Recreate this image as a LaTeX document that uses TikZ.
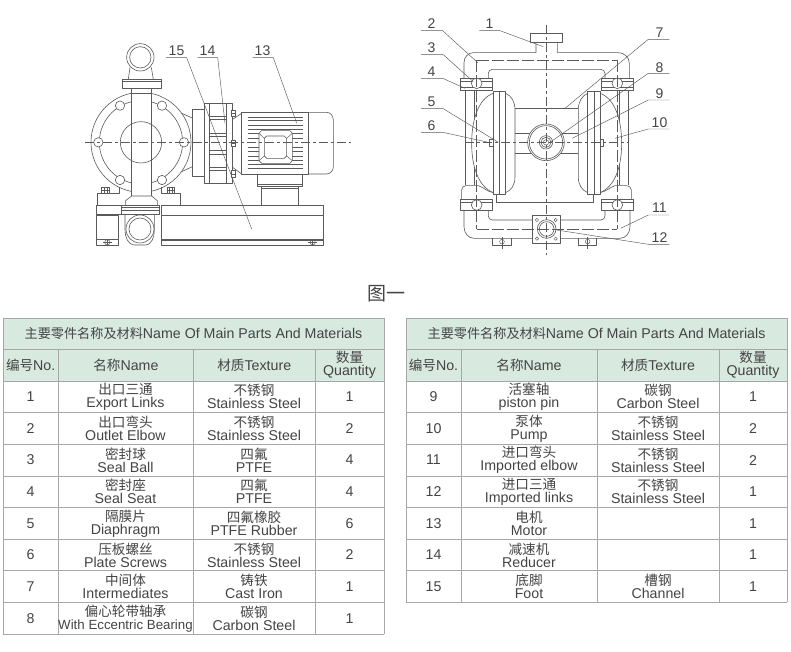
\documentclass[tikz,border=0pt]{standalone}
\usepackage{fontspec}
\setmainfont{Liberation Sans}
\newfontfamily\zhfont{Noto Sans CJK SC}
\newcommand{\Zh}[1]{{\zhfont\fontsize{13.6}{13}\selectfont #1}}
\definecolor{ink}{HTML}{444444}
\definecolor{hdr}{HTML}{D8E9E0}
\definecolor{rule}{HTML}{A6A8A7}
\definecolor{draft}{HTML}{5A5A5A}
\tikzset{
  mech/.style={draw=draft,line width=.6pt,line join=round},
  thin mech/.style={draw=draft,line width=.45pt},
  axis/.style={draw=draft,line width=.5pt,dash pattern=on 9pt off 3pt on 3pt off 3pt},
  hidden/.style={draw=draft,line width=.5pt,dash pattern=on 12pt off 3pt},
  leader/.style={draw=draft,line width=.45pt},
  partno/.style={text=ink,font=\fontsize{14}{14}\selectfont,inner sep=0pt},
  cell/.style={text=ink,font=\fontsize{14.2}{13}\selectfont,align=center,inner sep=0pt},
  headfill/.style={fill=hdr,draw=none},
  tablerule/.style={draw=rule,line width=.8pt},
}
\newcommand{\tableframe}[8]{% name,x0,x1,x2,x3,x4,ybottom,rows
  \fill[headfill] (#2,318) rectangle (#6,381);
  \foreach \yy in {318,349,381} \draw[tablerule] (#2,\yy) -- (#6,\yy);
  \foreach \rr in {1,...,#8} \draw[tablerule] (#2,381+\rr*31.63) -- (#6,381+\rr*31.63);
  \draw[tablerule] (#2,318) -- (#2,#7);
  \draw[tablerule] (#6,318) -- (#6,#7);
  \foreach \xx in {#3,#4,#5} \draw[tablerule] (\xx,349) -- (\xx,#7);
  \node[cell] (#1title) at ({(#2+#6)/2},333.5) {{\zhfont\fontsize{13.15}{13}\selectfont 主要零件名称及材料}Name Of Main Parts And Materials};
  \node[cell] (#1hno) at ({(#2+#3)/2},365) {\Zh{编号}No.};
  \node[cell] (#1hname) at ({(#3+#4)/2},365) {\Zh{名称}Name};
  \node[cell] (#1htex) at ({(#4+#5)/2},365) {\Zh{材质}Texture};
  \node[cell] (#1hqty) at ({(#5+#6)/2},365) {\Zh{数量}\\Quantity};
}
\newcommand{\tablerow}[7]{% name, i, no, cn, en, mat, qty ; uses \cxa..\cxd
  \pgfmathsetmacro{\yc}{381+(#2-0.5)*31.63}
  \node[cell] (#1no#3) at (\cxa,\yc) {#3};
  \node[cell] (#1name#3) at (\cxb,\yc) {\Zh{#4}\\#5};
  \node[cell] (#1mat#3) at (\cxc,\yc) {#6};
  \node[cell] (#1qty#3) at (\cxd,\yc) {#7};
}
\begin{document}
\begin{tikzpicture}[x=1pt,y=-1pt]
\useasboundingbox (0,0) rectangle (791,651);
\fill[white] (0,0) rectangle (791,651);

% ---------- left drawing ----------
\begin{scope}[shift={(80,30)},x=.3333pt,y=-.3333pt]
  % outlet elbow
  \draw[mech] (181,82) circle (41);
  \draw[mech] (181,82) circle (32);
  \draw[mech] (150,112) -- (145,148);
  \draw[mech] (214,112) -- (220,148);
  \draw[mech] (127,148) rectangle (243,175);
  \draw[mech] (127,155) -- (243,155);
  % pump body
  \draw[mech] (183,337) circle (150);
  \draw[mech] (183,337) circle (125);
  \foreach \bx/\by in {55/337,312/337,120/227,246/227,120/450,246/450}
    \draw[mech,fill=white] (\bx,\by) circle (14);
  \fill[white] (156,176) rectangle (214,500);
  \draw[mech] (155,176) -- (155,505);
  \draw[mech] (215,176) -- (215,505);
  \draw[mech] (155,190) -- (215,190);
  \draw[mech] (183,337) circle (62);
  % inlet elbow
  \draw[mech,fill=white] (137,525) -- (137,512) -- (155,498) -- (215,498) -- (232,512) -- (232,525);
  \draw[mech,fill=white] (135,553) -- (135,600) to[out=-90,in=180] (165,645) -- (195,645) to[out=0,in=-90] (223,600) -- (223,553);
  \draw[mech] (180,597) circle (42);
  \draw[mech] (180,597) circle (33);
  \draw[mech,fill=white] (125,525) rectangle (239,553);
  \draw[mech] (125,532) -- (239,532);
  \draw[mech] (125,542) -- (239,542);
  % feet
  \draw[mech] (52,527) -- (52,490) -- (117,490) -- (117,470);
  \draw[mech] (245,470) -- (245,490) -- (300,490) -- (300,527);
  \draw[mech] (65,490) rectangle (88,472);
  \draw[mech] (262,490) rectangle (284,472);
  \draw[thin mech] (65,481) -- (88,481) (72,472) -- (72,490) (81,472) -- (81,490);
  \draw[thin mech] (262,481) -- (284,481) (268,472) -- (268,490) (277,472) -- (277,490);
  % base
  \draw[mech] (48,527) rectangle (125,553);
  \draw[mech] (48,555) -- (48,647) -- (115,647) -- (115,555) -- cycle;
  \draw[mech] (48,628) -- (115,628);
  \draw[mech] (243,525) rectangle (730,555);
  \draw[mech] (243,555) -- (243,647) -- (730,647) -- (730,555);
  \draw[mech] (243,628) -- (730,628);
  \draw[mech] (243,632) -- (730,632);
  \foreach \bx in {82,698} {
    \draw[thin mech] (\bx,637) circle (8);
    \draw[thin mech] (\bx-14,637) -- (\bx+14,637) (\bx,628) -- (\bx,647);
  }
  % bell housing + reducer
  \draw[mech] (305,250) -- (337,264);
  \draw[mech] (305,425) -- (337,410);
  \draw[mech,fill=white] (337,238) rectangle (372,440);
  \draw[mech,fill=white] (372,220) rectangle (458,460);
  \draw[mech] (388,220) -- (388,460);
  \draw[mech] (440,220) -- (440,460);
  \draw[mech] (388,258) -- (440,258) (388,268) -- (440,268);
  \draw[mech] (388,310) -- (440,310) (388,320) -- (440,320);
  \draw[mech] (388,362) -- (440,362) (388,372) -- (440,372);
  \draw[mech] (388,412) -- (440,412) (388,422) -- (440,422);
  % bolts
  \foreach \by in {250,340,432} {
    \draw[mech,fill=white] (455,\by-10) rectangle (467,\by+10);
    \draw[thin mech] (455,\by) -- (467,\by);
  }
  % motor
  \draw[mech] (458,268) -- (485,250);
  \draw[mech] (458,412) -- (485,432);
  \draw[mech] (485,247) rectangle (685,432);
  \draw[mech] (685,247) -- (740,247) to[out=0,in=90] (760,270) -- (760,410) to[out=-90,in=0] (740,432) -- (685,432);
  \foreach \fy in {262,272,285,298,365,378,390,403,415}
    \draw[thin mech] (503,\fy) -- (668,\fy);
  \foreach \fy in {311,325,352}
    \draw[thin mech] (503,\fy) -- (537,\fy) (637,\fy) -- (668,\fy);
  \draw[mech,fill=white] (545,302) -- (630,302) -- (637,310) -- (637,392) -- (630,400) -- (545,400) -- (537,392) -- (537,310) -- cycle;
  \draw[mech] (560,318) -- (613,318) -- (620,325) -- (620,378) -- (613,385) -- (560,385) -- (553,378) -- (553,325) -- cycle;
  \draw[thin mech] (537,310) -- (553,325) (637,310) -- (620,325) (537,392) -- (553,378) (637,392) -- (620,378);
  % motor foot
  \draw[mech] (533,432) -- (533,470) -- (668,470) -- (668,432);
  \draw[mech] (533,462) -- (668,462);
  \draw[mech] (545,470) -- (545,527) (655,470) -- (655,527);
  \draw[mech] (545,476) -- (655,476);
  % axis
  \draw[axis] (15,337) -- (812,337);
\end{scope}

\node[partno] (p15) at (176.5,50.5) {15};
\draw[leader] (166,57.7) -- (186.7,57.7) -- (251.7,229);
\node[partno] (p14) at (207.5,50.5) {14};
\draw[leader] (197.7,57.7) -- (217.7,57.7) -- (225,123.3);
\node[partno] (p13) at (262.5,50.5) {13};
\draw[leader] (252.7,57.7) -- (273.3,57.7) -- (296.7,123.3);

% ---------- right drawing ----------
\begin{scope}[shift={(410,10)},x=.3333pt,y=-.3333pt]
  % top pipe
  \draw[mech] (378,100) -- (378,128) -- (190,128) to[out=180,in=90] (162,158) -- (162,205);
  \draw[mech] (443,100) -- (443,128) -- (625,128) to[out=0,in=90] (658,160) -- (658,205);
  \draw[mech] (362,70) rectangle (458,97);
  \draw[mech] (235,205) -- (235,190) to[out=90,in=180] (247,178) -- (572,178) to[out=0,in=90] (585,190) -- (585,205);
  % seal groups
  \foreach \xa/\xb/\xc in {152/247/200,575/670/622} {
    \draw[mech] (\xa,205) rectangle (\xb,240);
    \draw[thin mech] (\xa,215) -- (\xb,215) (\xa,232) -- (\xb,232);
    \draw[mech,fill=white] (\xc,220) circle (16);
    \draw[mech] (\xa,568) rectangle (\xb,600);
    \draw[thin mech] (\xa,577) -- (\xb,577);
    \draw[mech,fill=white] (\xc,585) circle (16);
  }
  % side pipes
  \draw[mech] (165,240) -- (165,525) (192,240) -- (192,525);
  \draw[mech] (628,240) -- (628,525) (655,240) -- (655,525);
  \draw[mech] (155,568) -- (155,540) to[out=90,in=180] (168,527) -- (205,527) to[out=-20,in=170] (250,548);
  \draw[mech] (664,568) -- (664,540) to[out=90,in=0] (650,527) -- (615,527) to[out=200,in=10] (570,548);
  % bottom pipe
  \draw[mech] (162,600) -- (162,650) to[out=-90,in=180] (192,685) -- (630,685) to[out=0,in=-90] (660,650) -- (660,600);
  \draw[mech] (235,600) -- (235,618) to[out=-90,in=180] (247,630) -- (368,630);
  \draw[mech] (452,630) -- (573,630) to[out=0,in=-90] (585,618) -- (585,600);
  % inlet flange
  \draw[mech,fill=white] (368,617) rectangle (452,700);
  \foreach \bx/\by in {381/630,437/630,381/686,437/686} \draw[thin mech] (\bx,\by) circle (5);
  \draw[mech] (410,657) circle (28);
  \draw[mech] (410,657) circle (22);
  % lower feet
  \draw[mech] (248,685) -- (248,707) -- (305,707) -- (305,685);
  \draw[mech] (505,685) -- (505,707) -- (560,707) -- (560,685);
  \foreach \bx in {276,533} {
    \draw[thin mech] (\bx,695) circle (7);
    \draw[thin mech] (\bx,680) -- (\bx,718);
  }
  % diaphragms
  \draw[mech,fill=white] (250,250) .. controls (205,265) and (185,330) .. (185,400) .. controls (185,470) and (205,530) .. (250,548);
  \draw[mech,fill=white] (570,250) .. controls (615,265) and (635,330) .. (635,400) .. controls (635,470) and (615,530) .. (570,548);
  \draw[mech] (287,250) .. controls (305,258) and (315,275) .. (315,300) -- (315,500) .. controls (315,525) and (305,540) .. (287,548);
  \draw[mech] (533,250) .. controls (515,258) and (505,275) .. (505,300) -- (505,500) .. controls (505,525) and (515,540) .. (533,548);
  \draw[mech,fill=white] (250,243) rectangle (287,553);
  \draw[mech] (268,243) -- (268,553);
  \draw[mech,fill=white] (533,243) rectangle (570,553);
  \draw[mech] (552,243) -- (552,553);
  % intermediate
  \draw[mech] (315,295) -- (505,295);
  \draw[mech] (315,370) -- (505,370);
  \draw[mech] (315,430) -- (505,430);
  \draw[mech] (260,553) -- (260,577) -- (550,577) -- (550,553);
  % bearing
  \draw[mech,fill=white] (408,397) circle (55);
  \draw[mech] (408,397) circle (50);
  \draw[mech] (408,397) circle (20);
  \draw[mech] (408,397) circle (15);
  \draw[thin mech] (408,397) circle (8);
  % small plates
  \draw[mech,fill=white] (238,388) rectangle (249,408);
  \draw[mech,fill=white] (570,388) rectangle (581,408);
  % centre lines on top
  \draw[hidden] (200,150) -- (622,150) (200,657) -- (622,657) (200,150) -- (200,657) (622,150) -- (622,657);
  \draw[axis] (165,397) -- (655,397);
  \draw[axis] (408,45) -- (408,735);
\end{scope}

\node[partno] (p1) at (489.5,24) {1};
\draw[leader] (479.3,30.7) -- (500,30.7) -- (543.3,46.7);
\node[partno] (p2) at (431.5,23.5) {2};
\draw[leader] (421,30.7) -- (442.7,30.7) -- (477.7,62.7);
\node[partno] (p3) at (431.5,48) {3};
\draw[leader] (421,54.7) -- (443.3,54.7) -- (473.3,81.7);
\node[partno] (p4) at (431.5,72) {4};
\draw[leader] (421,78.3) -- (442.7,78.3) -- (465,88.3);
\node[partno] (p5) at (431.5,102) {5};
\draw[leader] (421,108.7) -- (443.3,108.7) -- (498.3,142.3);
\node[partno] (p6) at (431.5,125.5) {6};
\draw[leader] (421,132.3) -- (442.7,132.3) -- (488.3,142.3);
\node[partno] (p7) at (659.5,32.5) {7};
\draw[leader] (669.3,39.3) -- (648.3,39.3) -- (565,108.3);
\node[partno] (p8) at (659.5,67.5) {8};
\draw[leader] (669.3,73.3) -- (648.3,73.3) -- (550,142.3);
\node[partno] (p9) at (659.5,93.5) {9};
\draw[leader] (669.3,100) -- (648.3,100) -- (572.3,138.3);
\node[partno] (p10) at (659.5,122.5) {10};
\draw[leader] (669.3,129) -- (648.3,129) -- (615,138.3);
\node[partno] (p11) at (659.5,208) {11};
\draw[leader] (669.3,215) -- (648.3,215) -- (620.7,228.3);
\node[partno] (p12) at (659.5,237.5) {12};
\draw[leader] (669.3,244.3) -- (648.3,244.3) -- (556.7,230);

% caption
\node[inner sep=0pt,text=ink,font=\zhfont\fontsize{19}{19}\selectfont] (cap) at (386,294) {图一};

% ---------- left table ----------
\tableframe{L}{3}{58.3}{193.5}{315}{384}{634}{8}
\def\cxa{30.5}\def\cxb{125.5}\def\cxc{254}\def\cxd{349.5}
\tablerow{L}{1}{1}{出口三通}{Export Links}{\Zh{不锈钢}\\Stainless Steel}{1}
\tablerow{L}{2}{2}{出口弯头}{Outlet Elbow}{\Zh{不锈钢}\\Stainless Steel}{2}
\tablerow{L}{3}{3}{密封球}{Seal Ball}{\Zh{四氟}\\PTFE}{4}
\tablerow{L}{4}{4}{密封座}{Seal Seat}{\Zh{四氟}\\PTFE}{4}
\tablerow{L}{5}{5}{隔膜片}{Diaphragm}{\Zh{四氟橡胶}\\PTFE Rubber}{6}
\tablerow{L}{6}{6}{压板螺丝}{Plate Screws}{\Zh{不锈钢}\\Stainless Steel}{2}
\tablerow{L}{7}{7}{中间体}{Intermediates}{\Zh{铸铁}\\Cast Iron}{1}
\tablerow{L}{8}{8}{偏心轮带轴承}{\fontsize{13.3}{13}\selectfont With Eccentric Bearing}{\Zh{碳钢}\\Carbon Steel}{1}

% ---------- right table ----------
\tableframe{R}{406}{461}{597}{719}{787}{602.4}{7}
\def\cxa{433.5}\def\cxb{529}\def\cxc{658}\def\cxd{753}
\tablerow{R}{1}{9}{活塞轴}{piston pin}{\Zh{碳钢}\\Carbon Steel}{1}
\tablerow{R}{2}{10}{泵体}{Pump}{\Zh{不锈钢}\\Stainless Steel}{2}
\tablerow{R}{3}{11}{进口弯头}{Imported elbow}{\Zh{不锈钢}\\Stainless Steel}{2}
\tablerow{R}{4}{12}{进口三通}{Imported links}{\Zh{不锈钢}\\Stainless Steel}{1}
\tablerow{R}{5}{13}{电机}{Motor}{}{1}
\tablerow{R}{6}{14}{减速机}{Reducer}{}{1}
\tablerow{R}{7}{15}{底脚}{Foot}{\Zh{槽钢}\\Channel}{1}
\end{tikzpicture}
\end{document}
